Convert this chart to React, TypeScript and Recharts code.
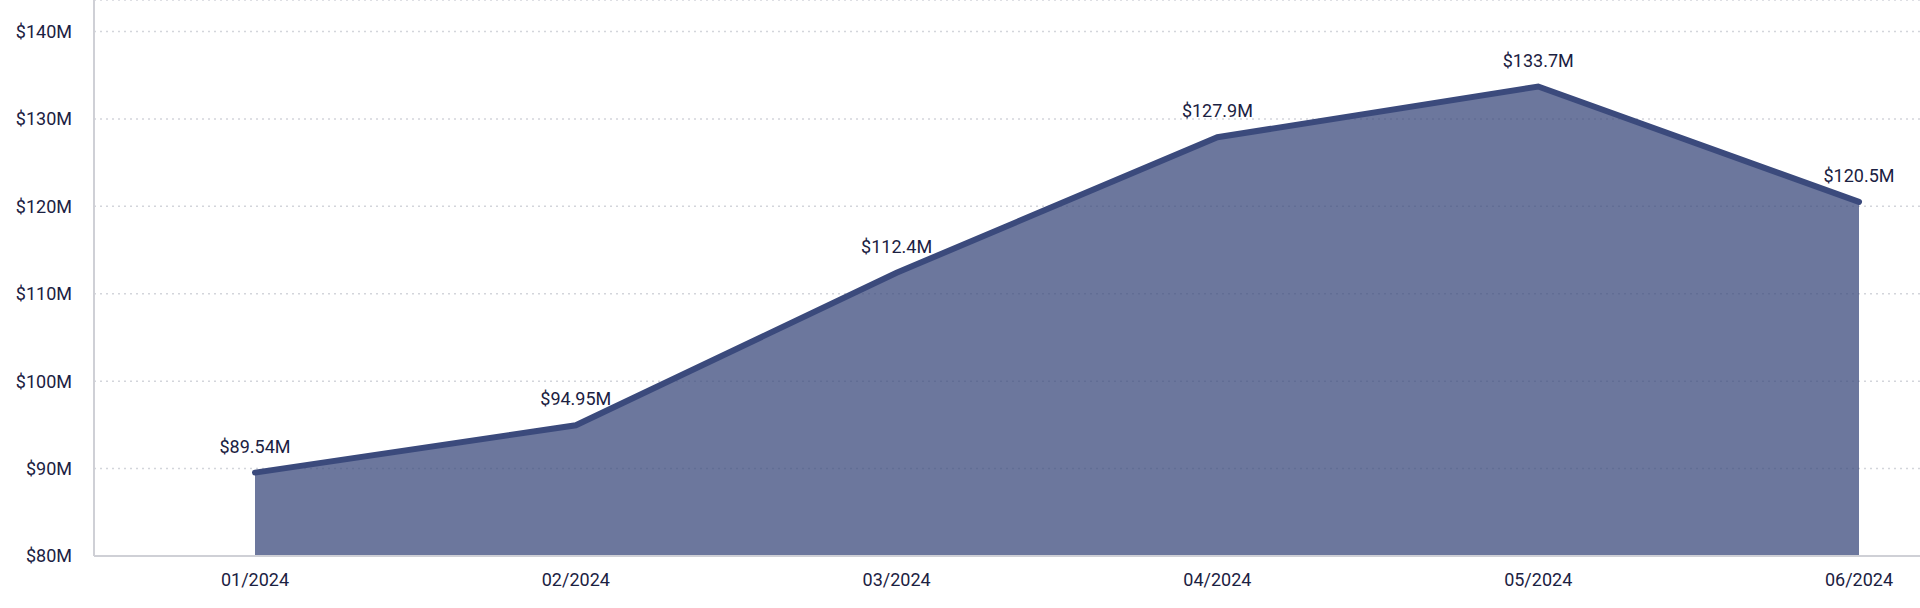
import React from 'react';
import { AreaChart, Area, XAxis, YAxis, CartesianGrid, LabelList } from 'recharts';

const months = ['01/2024', '02/2024', '03/2024', '04/2024', '05/2024', '06/2024'];
const revenue = [89.54, 94.95, 112.4, 127.9, 133.7, 120.5];
const revenueLabels = ['$89.54M', '$94.95M', '$112.4M', '$127.9M', '$133.7M', '$120.5M'];
const yTicks = [80, 90, 100, 110, 120, 130, 140];

const data = months.map((month, i) => ({
  month,
  value: revenue[i],
  label: revenueLabels[i],
}));

const FONT = 'Roboto, sans-serif';
const TEXT = '#1b2142';
const STROKE = '#3b4a7c';

export default function App() {
  return (
    <div style={{ position: 'absolute', left: 0, top: 0, width: 1920, height: 608, background: '#fff', fontFamily: FONT }}>
      <AreaChart width={1920} height={608} data={data} margin={{ top: 0, right: 0, bottom: 0, left: 0 }}>
        <CartesianGrid
          vertical={false}
          stroke="#d3d5db"
          strokeDasharray="2 4"
          strokeWidth={1.5}
        />
        <XAxis
          dataKey="month"
          height={52}
          padding={{ left: 161, right: 61 }}
          tick={{ fill: TEXT, fontSize: 18, fontFamily: FONT }}
          axisLine={{ stroke: '#cfd0d6', strokeWidth: 2 }}
          tickLine={false}
          tickSize={6}
          tickMargin={11}
        />
        <YAxis
          width={94}
          domain={[80, 143.6]}
          ticks={yTicks}
          allowDataOverflow
          tickFormatter={(v: number) => `$${v}M`}
          tick={{ fill: TEXT, fontSize: 18, fontFamily: FONT }}
          axisLine={{ stroke: '#cfd0d6', strokeWidth: 2 }}
          tickLine={false}
          tickSize={0}
          tickMargin={22}
        />
        <Area
          type="linear"
          dataKey="value"
          stroke={STROKE}
          strokeWidth={6}
          strokeLinecap="round"
          fill={STROKE}
          fillOpacity={0.75}
          dot={false}
          activeDot={false}
          isAnimationActive={false}
        >
          <LabelList
            dataKey="label"
            position="top"
            offset={20}
            fill={TEXT}
            fontSize={18}
            fontFamily={FONT}
          />
        </Area>
      </AreaChart>
    </div>
  );
}
